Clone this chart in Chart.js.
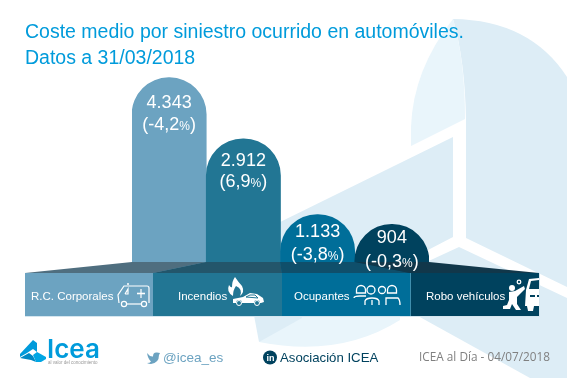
<!DOCTYPE html>
<html>
<head>
<meta charset="utf-8">
<style>
html, body { margin: 0; padding: 0; background: #fff; }
#wrap { position: relative; width: 567px; height: 378px; overflow: hidden; }
</style>
<script src="https://cdn.jsdelivr.net/npm/chart.js@4"></script>
</head>
<body>
<div id="wrap"><canvas id="c" width="567" height="378"></canvas></div>
<script>
const categories = ['R.C. Corporales', 'Incendios', 'Ocupantes', 'Robo vehículos'];
const costs = [4343, 2912, 1133, 904];
const costLabels = ['4.343', '2.912', '1.133', '904'];
const changes = ['(-4,2', '(6,9', '(-3,8', '(-0,3'];
const barColors = ['#6ca3c1', '#227694', '#006e99', '#00425e'];
const capColors = ['#4f6e7f', '#23566b', '#0f4f6b', '#11374a'];
const titleLines = ['Coste medio por siniestro ocurrido en automóviles.', 'Datos a 31/03/2018'];

const SANS = '"Liberation Sans", Arial, sans-serif';

function poly(ctx, pts, fill) {
    ctx.beginPath();
    pts.forEach((p, i) => { if (i) ctx.lineTo(p[0], p[1]); else ctx.moveTo(p[0], p[1]); });
    ctx.closePath();
    ctx.fillStyle = fill;
    ctx.fill();
}

function circle(ctx, x, y, r, fill) {
    ctx.beginPath();
    ctx.arc(x, y, r, 0, Math.PI * 2);
    if (fill) { ctx.fillStyle = fill; ctx.fill(); } else ctx.stroke();
}

function line(ctx, pts) {
    ctx.beginPath();
    pts.forEach((p, i) => { if (i) ctx.lineTo(p[0], p[1]); else ctx.moveTo(p[0], p[1]); });
    ctx.stroke();
}

// faint ICEA logo behind the bars
const backdrop = {
    id: 'backdrop',
    beforeDraw(chart) {
        const ctx = chart.ctx;
        const dark = '#ddedf6', light = '#e9f5fb';
        ctx.save();
        ctx.fillStyle = '#fff';
        ctx.fillRect(0, 0, 567, 378);
        ctx.beginPath();
        ctx.moveTo(453, 19);
        ctx.quadraticCurveTo(530, 20, 567, 77);
        ctx.lineTo(567, 287);
        ctx.lineTo(466, 238);
        ctx.lineTo(466, 120);
        ctx.quadraticCurveTo(465, 60, 453, 19);
        ctx.fillStyle = dark;
        ctx.fill();
        ctx.beginPath();
        ctx.moveTo(453, 19);
        ctx.quadraticCurveTo(465, 60, 465, 119);
        ctx.lineTo(411, 146);
        ctx.lineTo(411, 127);
        ctx.quadraticCurveTo(413, 70, 453, 19);
        ctx.fillStyle = light;
        ctx.fill();
        poly(ctx, [[453, 137], [453, 237], [428, 250], [280, 300], [272, 226]], dark);
        poly(ctx, [[459, 247], [567, 298], [567, 378], [530, 378], [418, 316], [420, 265]], dark);
        // lower blade
        ctx.beginPath();
        ctx.moveTo(259, 342);
        ctx.quadraticCurveTo(340, 358, 400, 320);
        ctx.lineTo(400, 310);
        ctx.lineTo(290, 310);
        ctx.closePath();
        ctx.fillStyle = light;
        ctx.fill();
        poly(ctx, [[253, 310], [300, 310], [302, 318], [259, 342]], dark);
        ctx.restore();
    }
};

function drawAmbulance(ctx) {
    ctx.lineWidth = 1.2;
    ctx.beginPath();
    ctx.moveTo(119, 303);
    ctx.lineTo(118, 295);
    ctx.lineTo(124, 286);
    ctx.lineTo(147, 286);
    ctx.quadraticCurveTo(149, 286, 149, 288);
    ctx.lineTo(149, 303);
    ctx.stroke();
    line(ctx, [[127, 304], [141, 304]]);
    line(ctx, [[125, 294], [128, 289], [128, 294], [125, 294]]);
    circle(ctx, 124, 304, 2.6);
    circle(ctx, 144, 304, 2.6);
    line(ctx, [[141, 289], [141, 298]]);
    ctx.lineWidth = 1.6;
    line(ctx, [[137, 293.5], [145, 293.5]]);
    circle(ctx, 128, 284, 1, '#fff');
}

function drawFireCar(ctx) {
    ctx.fillStyle = '#fff';
    ctx.beginPath();
    ctx.moveTo(235, 277);
    ctx.quadraticCurveTo(239, 283, 242, 286);
    ctx.quadraticCurveTo(245, 292, 240, 296);
    ctx.quadraticCurveTo(243, 289, 236, 286);
    ctx.quadraticCurveTo(233, 290, 233, 296);
    ctx.quadraticCurveTo(226, 292, 229, 285);
    ctx.quadraticCurveTo(231, 288, 232, 287);
    ctx.quadraticCurveTo(232, 281, 235, 277);
    ctx.fill();
    ctx.beginPath();
    ctx.moveTo(233, 303);
    ctx.lineTo(233, 299);
    ctx.lineTo(243, 297);
    ctx.lineTo(250, 293);
    ctx.lineTo(257, 294);
    ctx.lineTo(263, 298);
    ctx.lineTo(264, 302);
    ctx.lineTo(261, 303);
    ctx.closePath();
    ctx.fill();
    ctx.strokeStyle = '#227694';
    ctx.lineWidth = 1;
    line(ctx, [[246, 297], [250, 295], [255, 295], [258, 298], [246, 297]]);
    circle(ctx, 239, 303, 3, '#227694');
    circle(ctx, 257, 303, 3, '#227694');
    ctx.strokeStyle = '#fff';
    circle(ctx, 239, 303, 2.5);
    circle(ctx, 257, 303, 2.5);
}

function drawPeople(ctx) {
    ctx.lineWidth = 1.3;
    [[361, 293], [392, 293]].forEach(p => {
        ctx.beginPath();
        ctx.arc(p[0], p[1] - 3, 4.5, Math.PI, 0);
        ctx.lineTo(p[0] + 4.5, p[1]);
        ctx.lineTo(p[0] - 4.5, p[1]);
        ctx.closePath();
        ctx.stroke();
    });
    circle(ctx, 371, 293 - 3, 4);
    circle(ctx, 382, 293 - 3, 3.5);
    ctx.beginPath();
    ctx.moveTo(354, 298);
    ctx.quadraticCurveTo(354, 296, 360, 296);
    ctx.lineTo(366, 296);
    ctx.stroke();
    ctx.beginPath();
    ctx.moveTo(365, 305);
    ctx.lineTo(365, 301);
    ctx.quadraticCurveTo(366, 298, 372, 298);
    ctx.quadraticCurveTo(378, 298, 379, 301);
    ctx.lineTo(379, 305);
    ctx.stroke();
    line(ctx, [[372, 300], [372, 305]]);
    ctx.beginPath();
    ctx.moveTo(386, 305);
    ctx.lineTo(386, 298);
    ctx.lineTo(398, 298);
    ctx.quadraticCurveTo(400, 300, 400, 305);
    ctx.stroke();
}

function drawRobbery(ctx) {
    ctx.fillStyle = '#fff';
    // car front, cut by the band edge
    ctx.save();
    ctx.beginPath();
    ctx.rect(520, 273, 19, 43);
    ctx.clip();
    ctx.beginPath();
    ctx.moveTo(526, 290);
    ctx.lineTo(529, 279);
    ctx.lineTo(539, 278);
    ctx.lineTo(539, 306);
    ctx.lineTo(525, 306);
    ctx.closePath();
    ctx.fill();
    poly(ctx, [[529, 289], [531, 281], [539, 280], [539, 289]], '#00425e');
    poly(ctx, [[530, 295], [535, 295], [535, 297], [530, 297]], '#00425e');
    poly(ctx, [[537, 295], [539, 295], [539, 297], [537, 297]], '#00425e');
    poly(ctx, [[527, 306], [534, 306], [533, 311], [528, 311]], '#fff');
    ctx.restore();
    // kneeling figure
    circle(ctx, 512, 288, 3, '#fff');
    poly(ctx, [[509, 292], [515, 291], [524, 286], [525, 289], [517, 297], [517, 304], [521, 310], [516, 310], [512, 304], [510, 309], [503, 309], [503, 306], [507, 305], [509, 300]], '#fff');
    circle(ctx, 519, 282, 1.8);
}

function drawLogo(ctx) {
    poly(ctx, [[33, 340], [37, 343], [37, 352], [33, 349], [27, 353], [20, 357], [20, 354]], '#009bdb');
    poly(ctx, [[20, 358], [29, 353], [33, 356], [36, 362], [31, 360]], '#0089c4');
    poly(ctx, [[37, 352], [46, 357], [46, 359], [41, 362], [36, 362], [33, 355]], '#00a6e4');
    ctx.fillStyle = '#009bdb';
    ctx.font = '600 26px Inter, sans-serif';
    ctx.fillText('Icea', 47, 358);
    ctx.fillStyle = '#9a9a9a';
    ctx.font = '4.5px ' + SANS;
    ctx.fillText('al valor del conocimiento', 48, 364);
}

function drawBird(ctx) {
    ctx.fillStyle = '#6ca3c1';
    ctx.beginPath();
    ctx.moveTo(147, 353);
    ctx.quadraticCurveTo(150, 357, 153, 356.5);
    ctx.quadraticCurveTo(153, 352, 157, 352.5);
    ctx.lineTo(160, 353);
    ctx.lineTo(159, 355);
    ctx.quadraticCurveTo(159, 363, 151, 364);
    ctx.quadraticCurveTo(149, 364, 147, 363);
    ctx.quadraticCurveTo(150, 363, 151, 361.5);
    ctx.quadraticCurveTo(148, 359, 147, 353);
    ctx.fill();
}

// title, base band with labels and footer
const decor = {
    id: 'decor',
    afterDatasetsDraw(chart) {
        const ctx = chart.ctx;
        const meta = chart.getDatasetMeta(0);
        ctx.save();
        ctx.textBaseline = 'alphabetic';
        ctx.textAlign = 'left';

        ctx.fillStyle = '#009bdb';
        ctx.font = '19.5px ' + SANS;
        titleLines.forEach((t, i) => ctx.fillText(t, 25, 38 + i * 25.5));

        // band under the bars
        const edges = [25, 153, 282, 410, 539];
        const tops = [132, 206, 280, 355, 429];
        capColors.forEach((col, i) => {
            poly(ctx, [[edges[i], 273], [tops[i], 262], [tops[i + 1], 262], [edges[i + 1], 273]], col);
        });
        barColors.forEach((col, i) => {
            ctx.fillStyle = col;
            ctx.fillRect(edges[i], 273, edges[i + 1] - edges[i], 43);
        });
        ctx.fillStyle = '#d5e6ef';
        ctx.fillRect(25, 316, 514, 1);
        ctx.fillRect(539, 273, 1, 44);
        ctx.fillStyle = '#3f8fae';
        ctx.fillRect(410, 273, 1, 43);

        // value labels at the head of each bar
        const firstLine = [30, 27, 22, 19];
        const secondLine = [52, 48, 45, 43];
        ctx.fillStyle = '#fff';
        meta.data.forEach((b, i) => {
            ctx.font = '18px ' + SANS;
            const w1 = ctx.measureText(costLabels[i]).width;
            ctx.fillText(costLabels[i], b.x - w1 / 2, b.y + firstLine[i]);
            const w2 = ctx.measureText(changes[i]).width;
            const w4 = ctx.measureText(')').width;
            ctx.font = '12px ' + SANS;
            const w3 = ctx.measureText('%').width;
            const x = b.x - (w2 + w3 + w4) / 2;
            ctx.font = '18px ' + SANS;
            ctx.fillText(changes[i], x, b.y + secondLine[i]);
            ctx.fillText(')', x + w2 + w3, b.y + secondLine[i]);
            ctx.font = '12px ' + SANS;
            ctx.fillText('%', x + w2, b.y + secondLine[i]);
        });

        ctx.font = '11.5px ' + SANS;
        const labelX = [31, 178, 294, 426];
        categories.forEach((c, i) => ctx.fillText(c, labelX[i], 300));

        ctx.strokeStyle = '#fff';
        ctx.fillStyle = '#fff';
        drawAmbulance(ctx);
        drawFireCar(ctx);
        ctx.strokeStyle = '#fff';
        drawPeople(ctx);
        drawRobbery(ctx);

        // footer
        drawLogo(ctx);
        drawBird(ctx);
        ctx.fillStyle = '#6ca3c1';
        ctx.font = '13.5px ' + SANS;
        ctx.fillText('@icea_es', 163, 362);
        circle(ctx, 270, 357.5, 7, '#00425e');
        ctx.fillStyle = '#fff';
        ctx.font = 'bold 9px ' + SANS;
        ctx.fillText('in', 266.5, 361);
        ctx.fillStyle = '#00425e';
        ctx.font = '13.2px ' + SANS;
        ctx.fillText('Asociación ICEA', 280, 362);
        ctx.fillStyle = '#808080';
        ctx.font = '11.8px "Open Sans", sans-serif';
        ctx.fillText('ICEA al Día - 04/07/2018', 419, 361);
        ctx.restore();
    }
};

new Chart(document.getElementById('c').getContext('2d'), {
    type: 'bar',
    data: {
        labels: categories,
        datasets: [{
            data: costs,
            base: -1000,  // run the bars on behind the band so the domes keep their full radius
            backgroundColor: barColors,
            borderWidth: 0,
            borderSkipped: 'bottom',
            borderRadius: { topLeft: 37, topRight: 37, bottomLeft: 0, bottomRight: 0 },
            barPercentage: 1,
            categoryPercentage: 1
        }]
    },
    options: {
        responsive: false,
        animation: false,
        layout: { padding: { left: 132, right: 138, top: 7, bottom: 72.4 } },
        plugins: { legend: { display: false }, tooltip: { enabled: false } },
        scales: {
            x: { display: false },
            y: { display: false, min: -1000, max: 6000 }
        }
    },
    plugins: [backdrop, decor]
});
</script>
</body>
</html>
